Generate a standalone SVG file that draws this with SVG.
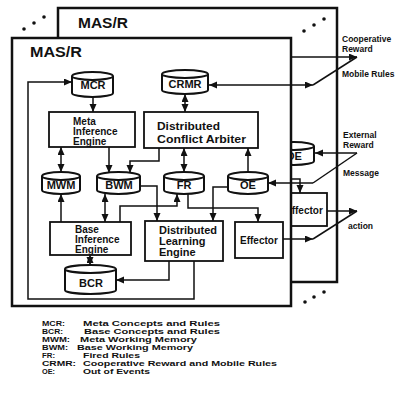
<svg xmlns="http://www.w3.org/2000/svg" width="406" height="403" viewBox="0 0 406 403">
<defs>
<marker id="ah" markerUnits="userSpaceOnUse" markerWidth="9" markerHeight="8" refX="8" refY="3.5" orient="auto-start-reverse"><path d="M0,0 L8,3.5 L0,7 z" fill="#111"/></marker>
<style>
text{font-family:"Liberation Sans",Arial,sans-serif;font-weight:bold;fill:#111}
.frame{fill:#fff;stroke:#111;stroke-width:2.5}
.box{fill:#fff;stroke:#111;stroke-width:1.8}
.cyl{fill:#fff;stroke:#111;stroke-width:2}
.c{fill:none;stroke:#111;stroke-width:1.5}
.t{font-size:14px}
.lab{font-size:11px;text-anchor:middle}
.s{font-size:10px}
.m{font-size:11px}
.ext{font-size:8.5px}
.leg{font-size:7px}
.dot{fill:#111}
</style>
</defs>
<rect width="406" height="403" fill="#fff"/>

<g id="back-frame">
<rect class="frame" x="58" y="8" width="279" height="274" stroke-width="2"/>
<text class="t" x="78" y="28" textLength="50" lengthAdjust="spacingAndGlyphs">MAS/R</text>
<path class="cyl" d="M274,146 A20,4 0 0 1 314,146 V161 A20,4 0 0 1 274,161 Z M274,146 A20,4 0 0 0 314,146"/>
<text class="lab" x="294" y="160">OE</text>
<rect class="box" x="281" y="193" width="46" height="33"/>
<text class="s" x="285" y="214">Effector</text>
</g>

<g id="dots">
<circle class="dot" cx="24" cy="29" r="1.8"/><circle class="dot" cx="34" cy="23" r="1.8"/><circle class="dot" cx="44" cy="17" r="1.8"/>
<circle class="dot" cx="304" cy="31" r="1.8"/><circle class="dot" cx="314" cy="25" r="1.8"/><circle class="dot" cx="324" cy="19" r="1.8"/>
<circle class="dot" cx="305" cy="302" r="1.8"/><circle class="dot" cx="314" cy="297" r="1.8"/><circle class="dot" cx="324" cy="292" r="1.8"/>
</g>

<g id="front-frame">
<rect class="frame" x="12" y="38" width="279" height="268"/>
<text class="t" x="30" y="57" textLength="52" lengthAdjust="spacingAndGlyphs">MAS/R</text>
</g>

<g id="MCR">
<path class="cyl" d="M72,76 A20.5,4 0 0 1 113,76 V93 A20.5,4 0 0 1 72,93 Z M72,76 A20.5,4 0 0 0 113,76"/>
<text class="lab" x="93" y="89">MCR</text>
</g>
<g id="CRMR">
<path class="cyl" d="M162,74 A23,4 0 0 1 208,74 V90 A23,4 0 0 1 162,90 Z M162,74 A23,4 0 0 0 208,74"/>
<text class="lab" x="185" y="88">CRMR</text>
</g>
<g id="meta-inference-engine">
<rect class="box" x="49" y="112" width="86" height="35"/>
<text class="s" x="73" y="125">Meta</text>
<text class="s" x="73" y="135">Inference</text>
<text class="s" x="73" y="145">Engine</text>
</g>
<g id="distributed-conflict-arbiter">
<rect class="box" x="144" y="112" width="114" height="36"/>
<text class="m" x="157" y="130" textLength="63" lengthAdjust="spacingAndGlyphs">Distributed</text>
<text class="m" x="157" y="143" textLength="89" lengthAdjust="spacingAndGlyphs">Conflict Arbiter</text>
</g>
<g id="MWM">
<path class="cyl" d="M42,176 A19,4 0 0 1 80,176 V190 A19,4 0 0 1 42,190 Z M42,176 A19,4 0 0 0 80,176"/>
<text class="lab" x="61" y="189">MWM</text>
</g>
<g id="BWM">
<path class="cyl" d="M97,176 A21.5,4 0 0 1 140,176 V190 A21.5,4 0 0 1 97,190 Z M97,176 A21.5,4 0 0 0 140,176"/>
<text class="lab" x="119" y="189">BWM</text>
</g>
<g id="FR">
<path class="cyl" d="M164,176 A20,4 0 0 1 204,176 V190 A20,4 0 0 1 164,190 Z M164,176 A20,4 0 0 0 204,176"/>
<text class="lab" x="184" y="189">FR</text>
</g>
<g id="OE">
<path class="cyl" d="M228,176 A20,4 0 0 1 268,176 V190 A20,4 0 0 1 228,190 Z M228,176 A20,4 0 0 0 268,176"/>
<text class="lab" x="248" y="189">OE</text>
</g>
<g id="base-inference-engine">
<rect class="box" x="50" y="222" width="81" height="33"/>
<text class="s" x="75" y="233">Base</text>
<text class="s" x="75" y="243">Inference</text>
<text class="s" x="75" y="253">Engine</text>
</g>
<g id="distributed-learning-engine">
<rect class="box" x="145" y="221" width="78" height="40"/>
<text class="m" x="159" y="234">Distributed</text>
<text class="m" x="159" y="245">Learning</text>
<text class="m" x="159" y="256">Engine</text>
</g>
<g id="effector">
<rect class="box" x="235" y="222" width="48" height="36"/>
<text class="s" x="240" y="244">Effector</text>
</g>
<g id="BCR">
<path class="cyl" d="M65,269 A25.5,4 0 0 1 116,269 V290 A25.5,4 0 0 1 65,290 Z M65,269 A25.5,4 0 0 0 116,269"/>
<text class="lab" x="91" y="287">BCR</text>
</g>

<g id="connectors">
<path class="c" d="M93,97 V112" marker-end="url(#ah)"/>
<path class="c" d="M194,261 V299 H28 V82 H72" marker-end="url(#ah)"/>
<path class="c" d="M185,94 V112" marker-start="url(#ah)" marker-end="url(#ah)"/>
<path class="c" d="M209,85 H313" marker-start="url(#ah)" marker-end="url(#ah)"/>
<path class="c" d="M313,85 L357,57"/>
<path class="c" d="M291,57 H357" marker-end="url(#ah)"/>
<path class="c" d="M61,147 V172" marker-start="url(#ah)" marker-end="url(#ah)"/>
<path class="c" d="M109,147 V173" marker-end="url(#ah)"/>
<path class="c" d="M159,148 V161 H130 V173" marker-end="url(#ah)"/>
<path class="c" d="M184,148 V172" marker-start="url(#ah)" marker-end="url(#ah)"/>
<path class="c" d="M248,172 V148" marker-end="url(#ah)"/>
<path class="c" d="M313,183 H268" marker-end="url(#ah)"/>
<path class="c" d="M357,153 L313,183"/>
<path class="c" d="M357,153 H315" marker-end="url(#ah)"/>
<path class="c" d="M291,179 H300 V193" marker-end="url(#ah)"/>
<path class="c" d="M140,186 H157 V221" marker-end="url(#ah)"/>
<path class="c" d="M61,222 V194" marker-end="url(#ah)"/>
<path class="c" d="M105,194 V222" marker-start="url(#ah)" marker-end="url(#ah)"/>
<path class="c" d="M120,222 V206 H177 V194" marker-end="url(#ah)"/>
<path class="c" d="M188,194 V208 H258 V222" marker-end="url(#ah)"/>
<path class="c" d="M228,187 H213 V221" marker-end="url(#ah)"/>
<path class="c" d="M169,261 V280 H116" marker-end="url(#ah)"/>
<path class="c" d="M90,255 V265" marker-start="url(#ah)" marker-end="url(#ah)"/>
<path class="c" d="M283,239 H313" marker-end="url(#ah)"/>
<path class="c" d="M313,239 L357,211"/>
<path class="c" d="M327,211 H357" marker-end="url(#ah)"/>
</g>

<g id="external-labels">
<text class="ext" x="342" y="42">Cooperative</text>
<text class="ext" x="342" y="52">Reward</text>
<text class="ext" x="342" y="77">Mobile Rules</text>
<text class="ext" x="343" y="138">External</text>
<text class="ext" x="343" y="148">Reward</text>
<text class="ext" x="343" y="176">Message</text>
<text class="ext" x="348" y="229">action</text>
</g>

<g id="legend">
<text class="leg" x="42" y="326" textLength="23" lengthAdjust="spacingAndGlyphs">MCR:</text>
<text class="leg" x="83" y="326" textLength="137" lengthAdjust="spacingAndGlyphs">Meta Concepts and Rules</text>
<text class="leg" x="42" y="334" textLength="21" lengthAdjust="spacingAndGlyphs">BCR:</text>
<text class="leg" x="84" y="334" textLength="136" lengthAdjust="spacingAndGlyphs">Base Concepts and Rules</text>
<text class="leg" x="42" y="342" textLength="28" lengthAdjust="spacingAndGlyphs">MWM:</text>
<text class="leg" x="80" y="342" textLength="117" lengthAdjust="spacingAndGlyphs">Meta Working Memory</text>
<text class="leg" x="42" y="350" textLength="26" lengthAdjust="spacingAndGlyphs">BWM:</text>
<text class="leg" x="77" y="350" textLength="116" lengthAdjust="spacingAndGlyphs">Base Working Memory</text>
<text class="leg" x="42" y="358" textLength="13" lengthAdjust="spacingAndGlyphs">FR:</text>
<text class="leg" x="83" y="358" textLength="57" lengthAdjust="spacingAndGlyphs">Fired Rules</text>
<text class="leg" x="42" y="366" textLength="34" lengthAdjust="spacingAndGlyphs">CRMR:</text>
<text class="leg" x="83" y="366" textLength="194" lengthAdjust="spacingAndGlyphs">Cooperative Reward and Mobile Rules</text>
<text class="leg" x="42" y="374" textLength="13" lengthAdjust="spacingAndGlyphs">OE:</text>
<text class="leg" x="83" y="374" textLength="67" lengthAdjust="spacingAndGlyphs">Out of Events</text>
</g>
</svg>
